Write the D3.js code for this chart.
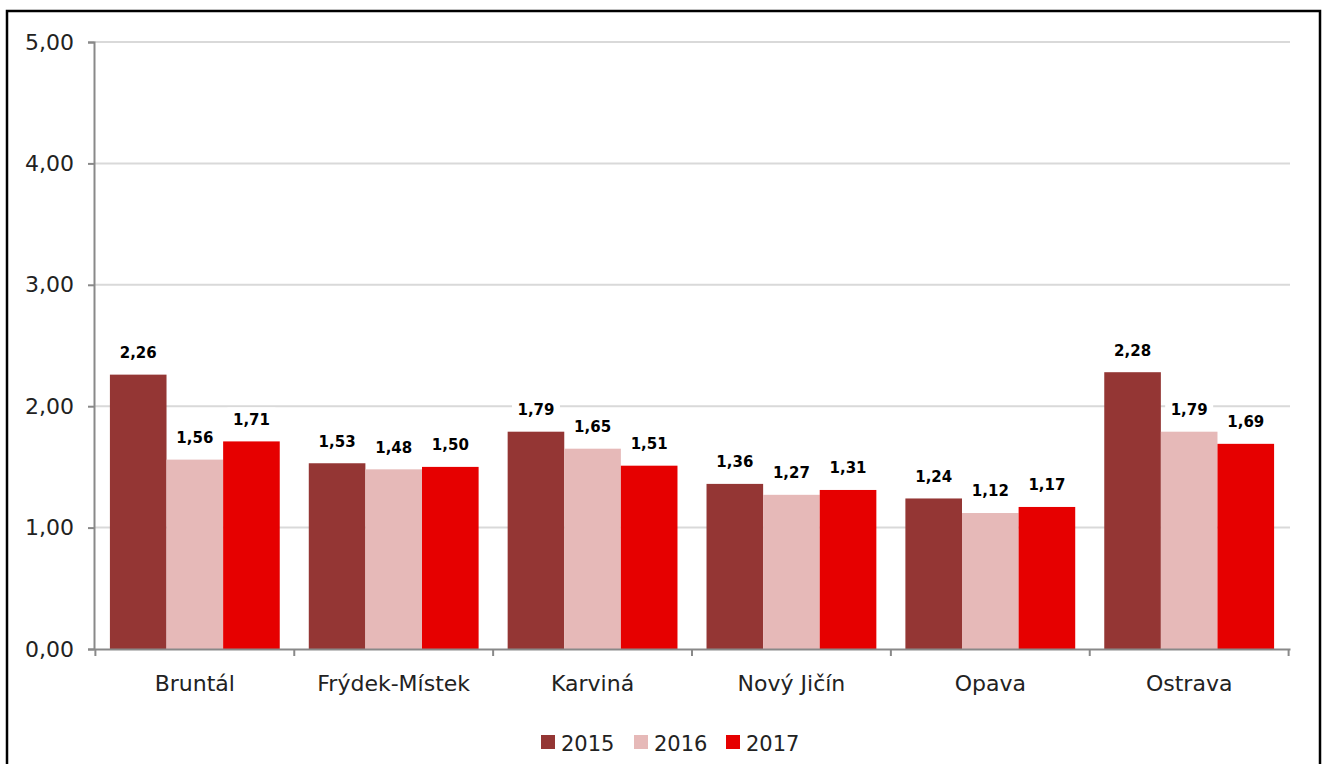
<!DOCTYPE html>
<meta charset="utf-8">
<style>
body { margin: 0; background: #fff; }
svg text { font-family: "DejaVu Sans", sans-serif; }
.grid line { stroke: #d9d9d9; }
.axis path, .axis line { stroke: #898989; stroke-width: 2; }
</style>
<body>
<script src="https://cdn.jsdelivr.net/npm/d3@7"></script>
<script>
// data
var categories = ["Bruntál", "Frýdek-Místek", "Karviná", "Nový Jičín", "Opava", "Ostrava"];
var years = ["2015", "2016", "2017"];
var v2015 = [2.26, 1.53, 1.79, 1.36, 1.24, 2.28];
var v2016 = [1.56, 1.48, 1.65, 1.27, 1.12, 1.79];
var v2017 = [1.71, 1.50, 1.51, 1.31, 1.17, 1.69];
var yTicks = [0, 1, 2, 3, 4, 5];
var colors = ["#943634", "#e6b9b8", "#e60000"];

var series = [v2015, v2016, v2017];
var W = 1327, H = 764;
var margin = {top: 42, right: 37, bottom: 115, left: 94},
    width = W - margin.left - margin.right,
    height = H - margin.top - margin.bottom;

var comma = function(v) { return d3.format(".2f")(v).replace(".", ","); };

var svg = d3.select("body").append("svg")
    .attr("width", W)
    .attr("height", H);

// outer frame
svg.append("rect")
    .attr("x", 7).attr("y", 11)
    .attr("width", 1313).attr("height", 770)
    .attr("fill", "none").attr("stroke", "#000").attr("stroke-width", 2.5);

var g = svg.append("g")
    .attr("transform", "translate(" + margin.left + "," + margin.top + ")");

var x = d3.scaleBand().domain(categories).range([0, width])
    .paddingInner(0.146).paddingOuter(0.08);
var x1 = d3.scaleBand().domain(years).range([0, x.bandwidth()]);
var y = d3.scaleLinear().domain([0, 5]).range([height, 0]);

// gridlines
g.append("g").attr("class", "grid")
  .selectAll("line").data(yTicks.slice(1)).enter().append("line")
    .attr("x1", 0).attr("x2", width)
    .attr("y1", function(d) { return y(d); })
    .attr("y2", function(d) { return y(d); })
    .attr("stroke-width", 2);

// bars
var groups = g.selectAll(".cat")
    .data(categories).enter().append("g")
    .attr("transform", function(d) { return "translate(" + x(d) + ",0)"; });

groups.selectAll("rect")
    .data(function(d, i) { return years.map(function(yr, j) { return {yr: yr, v: series[j][i], j: j}; }); })
    .enter().append("rect")
    .attr("x", function(d) { return x1(d.yr); })
    .attr("width", x1.bandwidth())
    .attr("y", function(d) { return y(d.v); })
    .attr("height", function(d) { return height - y(d.v); })
    .attr("fill", function(d) { return colors[d.j]; });

// value labels with white box
var lab = groups.selectAll(".lab")
    .data(function(d, i) { return years.map(function(yr, j) { return {yr: yr, v: series[j][i], j: j}; }); })
    .enter().append("g")
    .attr("transform", function(d) {
      return "translate(" + (x1(d.yr) + x1.bandwidth() / 2) + "," + (y(d.v) - 22) + ")";
    });
lab.append("rect")
    .attr("x", -24).attr("y", -12).attr("width", 48).attr("height", 24)
    .attr("fill", "#fff");
lab.append("text")
    .attr("text-anchor", "middle").attr("dy", "0.36em")
    .attr("font-size", 15).attr("font-weight", "bold")
    .text(function(d) { return comma(d.v); });

// axes
var yAxis = g.append("g").attr("class", "axis")
    .call(d3.axisLeft(y).tickValues(yTicks).tickSize(6).tickSizeOuter(6).tickFormat(comma).tickPadding(14));
yAxis.selectAll("text").attr("font-size", 22).attr("fill", "#222");

var xAxis = g.append("g").attr("class", "axis")
    .attr("transform", "translate(0," + height + ")")
    .call(d3.axisBottom(x).tickSize(0).tickSizeOuter(0).tickPadding(26));
xAxis.selectAll("text").attr("font-size", 22).attr("fill", "#222");
// category boundary ticks
xAxis.selectAll(".sep")
    .data(d3.range(categories.length + 1)).enter().append("line")
    .attr("class", "sep")
    .attr("x1", function(i) { return i * x.step() - x.step() * x.paddingInner() / 2 + x.step() * x.paddingOuter(); })
    .attr("x2", function(i) { return i * x.step() - x.step() * x.paddingInner() / 2 + x.step() * x.paddingOuter(); })
    .attr("y1", 0).attr("y2", 7);

// legend
var leg = svg.append("g").attr("transform", "translate(541,735)");
var items = leg.selectAll("g").data(years).enter().append("g")
    .attr("transform", function(d, i) { return "translate(" + [0, 93, 185][i] + ",0)"; });
items.append("rect").attr("width", 14).attr("height", 14)
    .attr("fill", function(d, i) { return colors[i]; });
items.append("text").attr("x", 20).attr("y", 16)
    .attr("font-size", 21).attr("fill", "#222")
    .text(function(d) { return d; });
</script>
</body>
